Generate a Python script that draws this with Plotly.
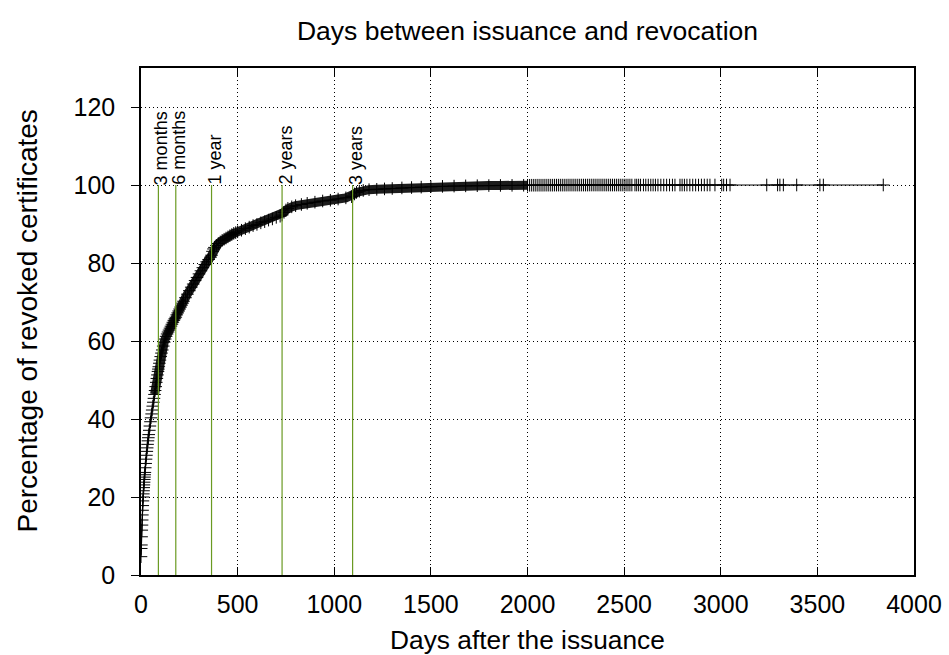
import plotly.graph_objects as go

# ---- data (days after issuance, cumulative % revoked) ----
days_main = [
    0, 1, 2, 3, 4, 5, 6, 7, 8, 9,
    10, 11, 12, 13, 14, 15, 16, 17, 18, 19,
    20, 22, 24, 26, 28, 30, 32, 34, 36, 38,
    40, 43, 46, 49, 52, 55, 58, 61, 64, 67,
    70, 73, 76, 79, 82, 85, 88, 90, 92, 95,
    98, 102, 106, 110, 115, 120, 125, 130, 135, 140,
    145, 150, 155, 160, 165, 170, 175, 180, 185, 190,
    195, 200, 205, 210, 215, 220, 230, 240, 250, 260,
    270, 280, 290, 300, 310, 320, 330, 340, 350, 360,
    365, 370, 375, 380, 390, 400, 410, 420, 430, 440,
    450, 460, 470, 480, 490, 500, 520, 540, 560, 580,
    600, 620, 640, 660, 680, 700, 720, 730, 740, 750,
    760, 780, 800, 830, 860, 900, 940, 980, 1020, 1060,
    1090, 1095, 1105, 1115, 1130, 1150, 1180, 1220, 1260, 1300,
    1350, 1400, 1450, 1500, 1560, 1620, 1680, 1740, 1800, 1860,
    1920, 1980,
]
pct_main = [
    4.7, 6.8, 7.7, 9.8, 11.5, 12.8, 14.1, 15.4, 16.6, 17.8,
    19.0, 20.0, 20.8, 21.6, 22.4, 23.1, 23.8, 24.5, 25.1, 25.7,
    26.3, 27.5, 28.6, 29.7, 30.7, 31.7, 32.6, 33.5, 34.4, 35.2,
    36.0, 37.1, 38.2, 39.3, 40.3, 41.3, 42.3, 43.3, 44.3, 45.3,
    46.3, 47.3, 48.3, 49.4, 50.4, 51.3, 52.2, 52.8, 53.4, 54.3,
    55.1, 56.0, 56.9, 57.7, 58.7, 59.7, 60.5, 61.2, 61.8, 62.3,
    62.8, 63.3, 63.8, 64.3, 64.8, 65.3, 65.7, 66.1, 66.7, 67.2,
    67.7, 68.2, 68.7, 69.2, 69.7, 70.2, 71.1, 72.0, 72.9, 73.8,
    74.6, 75.5, 76.3, 77.2, 78.0, 78.8, 79.6, 80.3, 80.9, 81.5,
    82.0, 83.0, 83.6, 84.0, 84.5, 85.0, 85.4, 85.8, 86.1, 86.4,
    86.7, 87.0, 87.3, 87.6, 87.8, 88.0, 88.4, 88.8, 89.2, 89.6,
    89.9, 90.3, 90.6, 91.0, 91.3, 91.7, 92.0, 92.3, 93.0, 93.6,
    94.0, 94.4, 94.7, 95.0, 95.3, 95.6, 95.9, 96.1, 96.4, 96.7,
    97.0, 97.2, 97.7, 98.1, 98.4, 98.6, 98.8, 98.9, 99.0, 99.1,
    99.25, 99.35, 99.45, 99.55, 99.65, 99.72, 99.78, 99.82, 99.86, 99.89,
    99.91, 99.93,
]
days_tail = [
    2000, 2010, 2020, 2030, 2040, 2050, 2060, 2070, 2080, 2090,
    2100, 2110, 2120, 2130, 2140, 2150, 2160, 2170, 2180, 2190,
    2200, 2210, 2220, 2230, 2240, 2250, 2260, 2270, 2280, 2290,
    2300, 2310, 2320, 2330, 2340, 2350, 2360, 2370, 2380, 2390,
    2400, 2410, 2420, 2430, 2440, 2450, 2460, 2470, 2480, 2490,
    2500, 2510, 2520, 2530, 2540, 2556, 2565, 2575, 2585, 2600,
    2612, 2625, 2638, 2650, 2662, 2675, 2690, 2705, 2720, 2735,
    2750, 2763, 2789, 2800, 2812, 2825, 2840, 2855, 2870, 2885,
    2900, 2915, 2930, 2944, 2970, 3005, 3015, 3030, 3048, 3238,
    3294, 3306, 3324, 3393, 3513, 3531, 3841,
]
pct_tail = [
    99.93, 99.93, 99.94, 99.94, 99.94, 99.95, 99.95, 99.95, 99.95, 99.96,
    99.96, 99.96, 99.96, 99.96, 99.97, 99.97, 99.97, 99.97, 99.97, 99.97,
    99.97, 99.98, 99.98, 99.98, 99.98, 99.98, 99.98, 99.98, 99.98, 99.98,
    99.98, 99.98, 99.99, 99.99, 99.99, 99.99, 99.99, 99.99, 99.99, 99.99,
    99.99, 99.99, 99.99, 99.99, 99.99, 99.99, 99.99, 99.99, 99.99, 99.99,
    99.99, 99.99, 99.99, 99.99, 99.99, 99.99, 99.99, 99.99, 99.99, 99.99,
    99.99, 99.99, 99.99, 99.99, 99.99, 99.99, 99.99, 99.99, 99.99, 99.99,
    99.99, 99.99, 99.99, 99.99, 99.99, 99.99, 99.99, 99.99, 99.99, 99.99,
    100.0, 100.0, 100.0, 100.0, 100.0, 100.0, 100.0, 100.0, 100.0, 100.0,
    100.0, 100.0, 100.0, 100.0, 100.0, 100.0, 100.0,
]

milestone_days = [90, 180, 365, 730, 1095]
milestone_labels = ["3 months", "6 months", "1 year", "2 years", "3 years"]
milestone_top = 100

x_ticks = [0, 500, 1000, 1500, 2000, 2500, 3000, 3500, 4000]
y_ticks = [0, 20, 40, 60, 80, 100, 120]

title_text = "Days between issuance and revocation"
x_title = "Days after the issuance"
y_title = "Percentage of revoked certificates"

# ---- figure ----
days = days_main + days_tail
pct = pct_main + pct_tail

band = [(d, p) for d, p in zip(days, pct) if 70 <= d <= 2000]
band_x = [d for d, _ in band]
band_y = [p for _, p in band]

FONT = "Liberation Sans, Arial, Helvetica, sans-serif"
GREEN = "#6a9a22"

fig = go.Figure()

# dense overlapping "+" points appear as a solid band
fig.add_trace(go.Scatter(
    x=band_x, y=band_y, mode="lines",
    line=dict(color="#1c1c1c", width=9),
    hoverinfo="skip", showlegend=False,
))
fig.add_trace(go.Scatter(
    x=days, y=pct, mode="lines+markers",
    line=dict(color="black", width=1),
    marker=dict(symbol="cross-thin", size=9, color="black",
                line=dict(width=1, color="black")),
    showlegend=False,
))
for d in milestone_days:
    fig.add_trace(go.Scatter(
        x=[d, d], y=[0, milestone_top], mode="lines",
        line=dict(color=GREEN, width=1.2),
        hoverinfo="skip", showlegend=False,
    ))

annotations = []
for d, lab in zip(milestone_days, milestone_labels):
    annotations.append(dict(
        x=d, y=milestone_top, xref="x", yref="y",
        text=lab, textangle=-90, showarrow=False,
        xanchor="center", yanchor="bottom", xshift=3, yshift=-2,
        font=dict(family=FONT, size=18, color="black"),
    ))
# y-axis title placed as rotated text left of the tick labels
annotations.append(dict(
    x=-114 / 773, y=0.5, xref="paper", yref="paper",
    text=y_title, textangle=-90, showarrow=False,
    xanchor="center", yanchor="middle",
    font=dict(family=FONT, size=28, color="black"),
))

fig.update_layout(
    width=949, height=655,
    margin=dict(l=141, r=35, t=68, b=80, autoexpand=False),
    paper_bgcolor="white", plot_bgcolor="white",
    font=dict(family=FONT, color="black"),
    title=dict(text=title_text, x=0.5, xref="paper", xanchor="center",
               y=1 - 31 / 655, yref="container", yanchor="middle",
               font=dict(family=FONT, size=26.5, color="black")),
    annotations=annotations,
    showlegend=False,
)
fig.update_xaxes(
    range=[0, 4000], tickvals=x_ticks, ticktext=[str(v) for v in x_ticks],
    showline=True, linecolor="black", linewidth=1.5, mirror="ticks",
    ticks="inside", ticklen=8, tickcolor="black", tickwidth=1,
    showgrid=True, gridcolor="black", gridwidth=1, griddash="1px,3px",
    zeroline=False, tickfont=dict(family=FONT, size=25, color="black"),
    title=dict(text=x_title, font=dict(family=FONT, size=26.3, color="black"), standoff=14),
    ticklabelstandoff=6,
)
fig.update_yaxes(
    range=[0, 130], tickvals=y_ticks, ticktext=[str(v) for v in y_ticks],
    showline=True, linecolor="black", linewidth=1.5, mirror=True,
    ticks="outside", ticklen=8, tickcolor="black", tickwidth=1,
    showgrid=True, gridcolor="black", gridwidth=1, griddash="1px,3px",
    zeroline=False, tickfont=dict(family=FONT, size=25, color="black"),
    ticklabelstandoff=11,
)

fig.write_html("out.html")
